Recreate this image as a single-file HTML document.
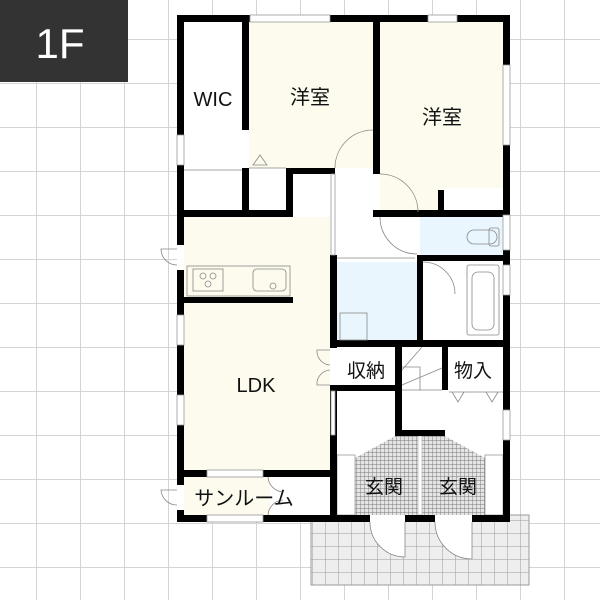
<!DOCTYPE html>
<html><head><meta charset="utf-8"><style>
html,body{margin:0;padding:0;background:#fff}
svg{display:block}
text{font-family:"Liberation Sans","Noto Sans CJK JP",sans-serif;fill:#111}
</style></head><body>
<svg width="600" height="600" viewBox="0 0 600 600" xmlns="http://www.w3.org/2000/svg">
<defs>
<pattern id="g" x="-8" y="-5" width="44" height="44" patternUnits="userSpaceOnUse">
<path d="M0 0H44M0 0V44" stroke="#d4d4d4" stroke-width="2" fill="none"/>
</pattern>
<pattern id="tile" width="13" height="13" patternUnits="userSpaceOnUse">
<path d="M0 0H13M0 0V13" stroke="#999" stroke-width="1" fill="none"/>
</pattern>
<pattern id="fine" width="4" height="4" patternUnits="userSpaceOnUse">
<rect width="4" height="4" fill="#e4e4e4"/>
<path d="M0 0H4M0 0V4" stroke="#777" stroke-width="0.9" fill="none"/>
</pattern>
</defs>
<rect width="600" height="600" fill="url(#g)"/>
<rect x="0" y="0" width="128" height="82" fill="#333"/>
<text x="60" y="58" font-size="42" style="fill:#fff" text-anchor="middle">1F</text>

<rect x="311" y="515" width="218" height="70" fill="#eee" stroke="#999"/>
<rect x="311" y="515" width="218" height="70" fill="url(#tile)"/>

<rect x="184" y="22" width="320" height="495" fill="#fff"/>
<rect x="249" y="22" width="125" height="146" fill="#fdfbee"/>
<rect x="380" y="22" width="123" height="166" fill="#fdfbee"/>
<rect x="380" y="188" width="64" height="23" fill="#fdfbee"/>
<rect x="184" y="217" width="146" height="255" fill="#fdfbee"/>
<rect x="184" y="477" width="86" height="38" fill="#fdfbee"/>
<rect x="420" y="217" width="83" height="38" fill="#e9f6fd"/>
<rect x="337" y="262" width="80" height="78" fill="#e9f6fd"/>
<polygon points="395,436 445,436 485,458 485,515 355,515 355,458" fill="url(#fine)"/>
<rect x="418" y="436" width="4" height="79" fill="#fff" stroke="#999" stroke-width="0.5"/>
<rect x="337" y="455" width="18" height="60" fill="#fff" stroke="#999" stroke-width="0.8"/>
<rect x="485" y="455" width="18" height="60" fill="#fff" stroke="#999" stroke-width="0.8"/>

<g fill="#000">
<rect x="177" y="15" width="333" height="7"/>
<rect x="177" y="15" width="7" height="507"/>
<rect x="503" y="15" width="7" height="507"/>
<rect x="177" y="515" width="333" height="7"/>
<rect x="242" y="22" width="7" height="108"/>
<rect x="242" y="168" width="7" height="45"/>
<rect x="177" y="210" width="116" height="7"/>
<rect x="286" y="168" width="7" height="49"/>
<rect x="286" y="168" width="49" height="6"/>
<rect x="373" y="22" width="7" height="152"/>
<rect x="373" y="210" width="137" height="7"/>
<rect x="438" y="190" width="6" height="22"/>
<rect x="417" y="255" width="93" height="6"/>
<rect x="417" y="255" width="6" height="90"/>
<rect x="330" y="255" width="7" height="93"/>
<rect x="330" y="340" width="180" height="7"/>
<rect x="330" y="385" width="71" height="6"/>
<rect x="395" y="340" width="7" height="96"/>
<rect x="395" y="430" width="50" height="6"/>
<rect x="442" y="340" width="6" height="50"/>
<rect x="330" y="390" width="7" height="130"/>
<rect x="177" y="470" width="160" height="7"/>
<rect x="177" y="297" width="116" height="6"/>
</g>
<g fill="#fff" stroke="#999" stroke-width="0.8">
<rect x="250" y="15" width="80" height="7"/>
<rect x="428" y="15" width="29" height="7"/>
<rect x="503" y="65" width="7" height="80"/>
<rect x="177" y="135" width="7" height="30"/>
<rect x="177" y="315" width="7" height="30"/>
<rect x="177" y="395" width="7" height="30"/>
<rect x="503" y="265" width="7" height="30"/>
<rect x="503" y="410" width="7" height="30"/>
<rect x="503" y="215" width="7" height="35"/>
<rect x="207" y="470" width="56" height="7"/>
<rect x="207" y="515" width="56" height="7"/>
<rect x="331" y="174" width="4" height="81"/>
<rect x="331" y="391" width="4" height="44"/>
<rect x="370" y="515" width="35" height="7" stroke="none"/>
<rect x="435" y="515" width="37" height="7" stroke="none"/>
<rect x="177" y="245" width="7" height="25" stroke="none"/>
<rect x="177" y="485" width="7" height="25" stroke="none"/>
<rect x="330" y="348" width="7" height="37" stroke="none"/>
</g>
<g fill="none" stroke="#888" stroke-width="0.8">
<path d="M335 168 A38 38 0 0 1 373 130"/>
<path d="M380 174 A38 38 0 0 1 418 212"/>
<path d="M380 217 A37 37 0 0 0 417 254"/>
<path d="M423 262 A32 32 0 0 1 455 294"/>
<path d="M370 522 A35 35 0 0 0 405 557 V522" fill="#fff"/>
<path d="M435 522 A37 37 0 0 0 472 559 V522" fill="#fff"/>
<path d="M177 265 A16 16 0 0 1 161 249 H177"/>
<path d="M177 505 A16 16 0 0 1 161 490 H177"/>
<path d="M268 477 A16 16 0 0 0 283 492 M268 515 A16 16 0 0 1 283 500"/>
<path d="M330 350 L317 350 A14 14 0 0 0 330 365 M330 385 L317 385 A14 14 0 0 1 330 370"/>
<path d="M184 170 H242 M249 168 H286"/>
<path d="M253 165 L260 155 L267 165 Z"/>
<path d="M449 392 H503 M452 392 L458 402 L464 392 M486 392 L492 402 L498 392"/>
<path d="M402 390 H442 M402 370 L422 347 M402 385 L442 368 M402 367 H420 V390"/>
<path d="M337 258 H415"/>
<rect x="187" y="266" width="103" height="30"/>
<rect x="193" y="269" width="30" height="22"/>
<rect x="253" y="269" width="33" height="22" rx="4"/>
<circle cx="203" cy="276" r="3"/><circle cx="213" cy="276" r="3"/><circle cx="208" cy="284" r="3"/>
<circle cx="273" cy="286" r="3"/>
<rect x="340" y="313" width="27" height="27"/>
<rect x="467" y="265" width="32" height="70" rx="2"/>
<rect x="472" y="272" width="22" height="58" rx="6"/>
<rect x="467" y="230" width="30" height="14" rx="7"/>
<rect x="489" y="228" width="10" height="18" rx="2"/>
</g>
<text x="213" y="106" font-size="20" text-anchor="middle">WIC</text>
<text x="310" y="104" font-size="20" text-anchor="middle">洋室</text>
<text x="442" y="124" font-size="20" text-anchor="middle">洋室</text>
<text x="256" y="392" font-size="20" text-anchor="middle">LDK</text>
<text x="366" y="377" font-size="19" text-anchor="middle">収納</text>
<text x="473" y="377" font-size="19" text-anchor="middle">物入</text>
<text x="384" y="493" font-size="19" text-anchor="middle">玄関</text>
<text x="458" y="493" font-size="19" text-anchor="middle">玄関</text>
<text x="244" y="505" font-size="20" text-anchor="middle">サンルーム</text>
</svg>
</body></html>
